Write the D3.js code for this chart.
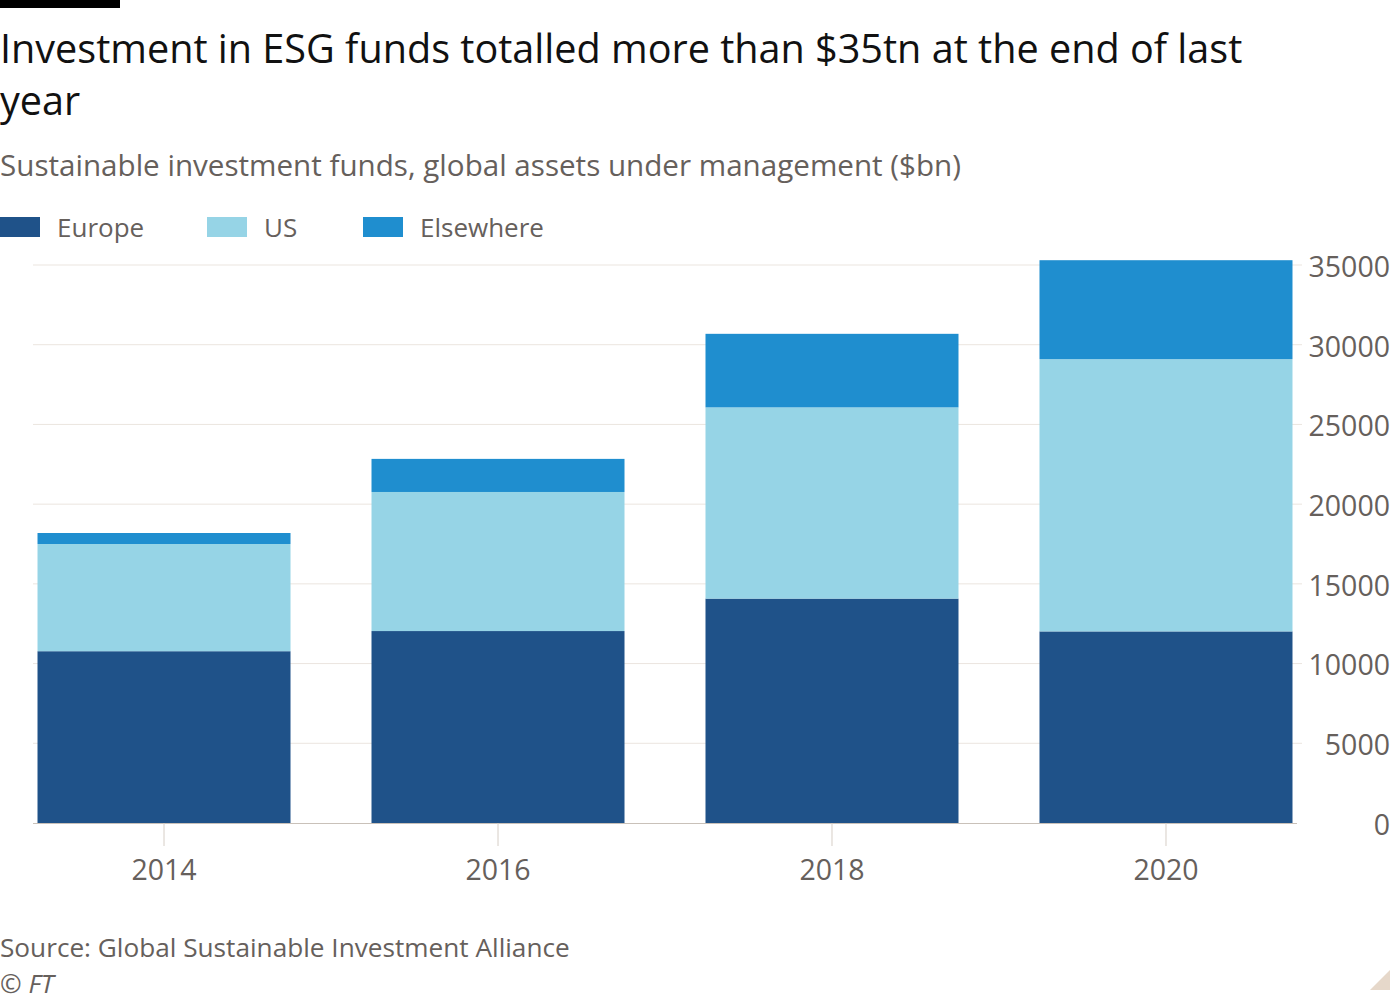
<!DOCTYPE html>
<html><head><meta charset="utf-8">
<script src="https://cdn.jsdelivr.net/npm/d3@7"></script>
<style>
body{margin:0;background:#fff;}
text{font-family:"Open Sans",sans-serif;}
</style></head>
<body>
<svg id="c" width="1400" height="1000"></svg>
<script>
const years = ["2014","2016","2018","2020"];
const series = ["Europe","US","Elsewhere"];
const europe = [10775, 12040, 14075, 12017];
const us = [6725, 8723, 11995, 17081];
const elsewhere = [690, 2076, 4613, 6203];
const yTicks = [0,5000,10000,15000,20000,25000,30000,35000];
const colors = ["#1f5289","#96d4e6","#1f8ecf"];

const svg = d3.select("#c");
svg.append("rect").attr("x",0).attr("y",0).attr("width",120).attr("height",8).attr("fill","#000");

svg.append("text").attr("x",0).attr("y",63).attr("font-size",39.6).attr("fill","#111")
  .text("Investment in ESG funds totalled more than $35tn at the end of last");
svg.append("text").attr("x",0).attr("y",115).attr("font-size",39.6).attr("fill","#111").text("year");
svg.append("text").attr("x",0).attr("y",176).attr("font-size",29.6).attr("fill","#66605c")
  .text("Sustainable investment funds, global assets under management ($bn)");

const legendX = [0,207,363];
series.forEach((s,i)=>{
  svg.append("rect").attr("x",legendX[i]).attr("y",217).attr("width",40).attr("height",20).attr("fill",colors[i]);
  svg.append("text").attr("x",legendX[i]+57).attr("y",237).attr("font-size",26).attr("fill","#66605c").text(s);
});

const x = d3.scaleBand().domain(years).range([33,1297]).paddingInner(0.2425).paddingOuter(0.0135);
const y = d3.scaleLinear().domain([0,35000]).range([823,265]);

// gridlines
svg.append("g").selectAll("line").data(yTicks.filter(d=>d>0)).join("line")
  .attr("x1",33).attr("x2",1302).attr("y1",d=>y(d)).attr("y2",d=>y(d))
  .attr("stroke","#ebe5df").attr("stroke-width",1);

// y axis
const yAxis = d3.axisRight(y).tickValues(yTicks).tickSize(0).tickFormat(d3.format("d"));
const yg = svg.append("g").attr("transform","translate(1390,0)").call(yAxis);
yg.select(".domain").remove();
yg.selectAll("text").attr("font-size",28.5).attr("fill","#66605c").attr("text-anchor","end").attr("x",0).attr("dy","0.4em")
  .style("font-family","'Open Sans',sans-serif");

const data = years.map((yr,i)=>({year:yr, Europe:europe[i], US:us[i], Elsewhere:elsewhere[i]}));
const stack = d3.stack().keys(series)(data);
svg.append("g").selectAll("g").data(stack).join("g").attr("fill",(d,i)=>colors[i])
  .selectAll("rect").data(d=>d).join("rect")
  .attr("x",d=>x(d.data.year)).attr("width",x.bandwidth())
  .attr("y",d=>y(d[1])).attr("height",d=>y(d[0])-y(d[1]));

// x axis
const xAxis = d3.axisBottom(x).tickSize(23).tickPadding(14);
const xg = svg.append("g").attr("transform","translate(0,823)").call(xAxis);
xg.select(".domain").attr("d","M33,0.5H1297").attr("stroke","#c9c1b9");
xg.selectAll(".tick line").attr("stroke","#d6cec6");
xg.selectAll("text").attr("font-size",28.5).attr("fill","#66605c").style("font-family","'Open Sans',sans-serif");

svg.append("text").attr("x",0).attr("y",957).attr("font-size",26.2).attr("fill","#66605c")
  .text("Source: Global Sustainable Investment Alliance");
svg.append("text").attr("x",0).attr("y",993).attr("font-size",26).attr("font-style","italic").attr("fill","#66605c")
  .text("© FT");
svg.append("path").attr("d","M1370,990L1390,970L1390,990Z").attr("fill","#e6d8ca");
</script>
</body></html>
